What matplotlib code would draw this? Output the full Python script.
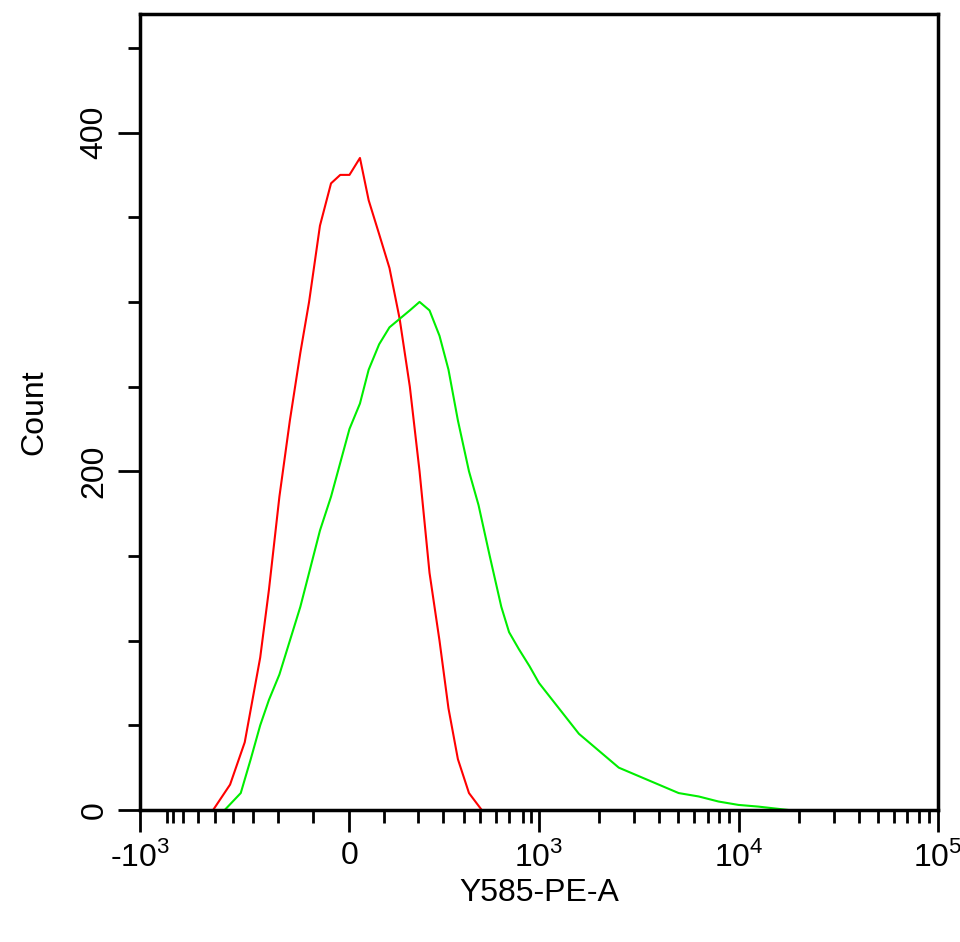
import matplotlib.pyplot as plt
import numpy as np
from matplotlib.ticker import FixedLocator, NullFormatter

plt.rcParams['font.family'] = ['Liberation Sans', 'DejaVu Sans']
plt.rcParams['mathtext.fontset'] = 'custom'
plt.rcParams['mathtext.rm'] = 'Liberation Sans'

# channel -> pixel knots of the biexponential-like axis
knot_ch = [-1000, -900, -800, -700, -600, -500, -400, -300, -200, -100, 0,
           100, 200, 300, 400, 500, 600, 700, 800, 900, 1000]
knot_px = [140, 167, 173, 183, 198, 215, 233, 253, 278, 313, 350,
           385, 419, 444, 465, 481, 497, 510, 524, 532, 540]

def fwd(x):
    x = np.asarray(x, dtype=float)
    lin = np.interp(x, knot_ch, knot_px)
    lg = 540 + 200 * np.log10(np.clip(x, 1000, None) / 1000)
    return np.where(x > 1000, lg, lin)

def inv(p):
    p = np.asarray(p, dtype=float)
    lin = np.interp(p, knot_px, knot_ch)
    lg = 1000 * 10 ** ((p - 540) / 200)
    return np.where(p > 540, lg, lin)

red_x = [-510, -415, -340, -270, -235, -195, -165, -135, -110, -80, -50, -25, 0,
         30, 55, 85, 115, 145, 175, 205, 245, 285, 325, 370, 430, 510]
red_y = [0, 15, 40, 90, 130, 185, 230, 270, 300, 345, 370, 375, 375,
         385, 360, 340, 320, 290, 250, 200, 140, 100, 60, 30, 10, 0]

green_x = [-445, -360, -310, -270, -235, -195, -165, -135, -110, -80, -50, -25, 0,
           30, 55, 85, 115, 145, 175, 205, 245, 285, 325, 370, 430, 490, 560, 640,
           700, 770, 880, 1000, 1259, 1585, 1995, 2512, 3162, 3981, 5012, 6310,
           7943, 10000, 12589, 17783]
green_y = [0, 10, 30, 50, 65, 80, 100, 120, 140, 165, 185, 205, 225,
           240, 260, 275, 285, 290, 295, 300, 295, 280, 260, 230, 200, 180, 150, 120,
           105, 95, 85, 75, 60, 45, 35, 25, 20, 15, 10, 8,
           5, 3, 2, 0]

fig = plt.figure(figsize=(9.6, 9.42), dpi=100)
ax = fig.add_axes([140 / 960, 132 / 942, 798 / 960, 796 / 942])
ax.set_xscale('function', functions=(fwd, inv))

ax.plot(red_x, red_y, color='#ff0000', lw=1.5)
ax.plot(green_x, green_y, color='#00ee00', lw=1.5)

ax.set_xlim(-1000, 1e5)
ax.set_ylim(0, 470)

major_x = [-1000, 0, 1000, 10000, 100000]
ax.xaxis.set_major_locator(FixedLocator(major_x))
ax.set_xticklabels([r'-$10^3$', '0', r'$10^3$', r'$10^4$', r'$10^5$'], fontsize=23)
minor_x = [c for c in knot_ch if c not in major_x]
minor_x += [k * 1000 for k in range(2, 10)] + [k * 10000 for k in range(2, 10)]
ax.xaxis.set_minor_locator(FixedLocator(minor_x))
ax.xaxis.set_minor_formatter(NullFormatter())

ax.set_yticks([0, 200, 400])
ax.set_yticklabels(['0', '200', '400'], fontsize=23, rotation=90, va='center')
ax.yaxis.set_minor_locator(FixedLocator(list(range(50, 470, 50))))

ax.tick_params(which='major', direction='out', length=16, width=2, pad=6)
ax.tick_params(which='minor', direction='out', length=9, width=2)
for s in ax.spines.values():
    s.set_linewidth(2.5)

ax.set_xlabel('Y585-PE-A', fontsize=23, labelpad=4)
ax.set_ylabel('Count', fontsize=23, labelpad=22)

fig.savefig('out.png', dpi=100, facecolor='white')
